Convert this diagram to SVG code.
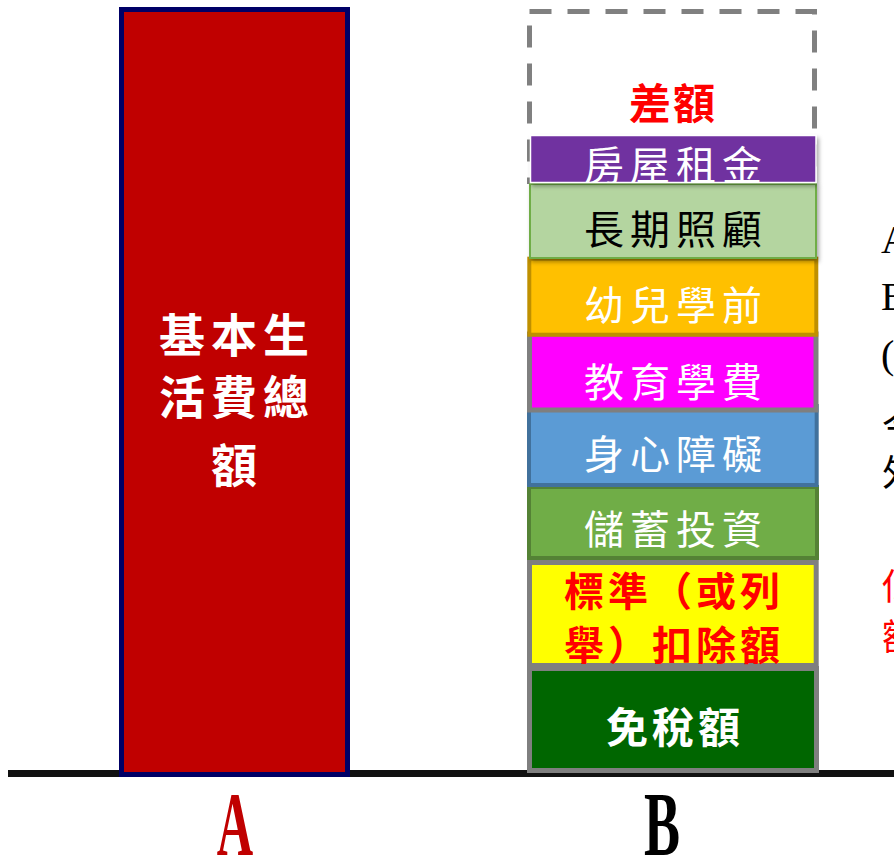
<svg xmlns="http://www.w3.org/2000/svg" width="894" height="858" viewBox="0 0 894 858">
  <defs>
    <filter id="shadow" x="-10%" y="-20%" width="120%" height="150%">
      <feDropShadow dx="2" dy="3" stdDeviation="2" flood-color="#000" flood-opacity="0.35"/>
    </filter>
    <clipPath id="clipRent"><rect x="530" y="135" width="287" height="48"/></clipPath>
  </defs>
  <style>
    .cjk { font-family: "Noto Sans CJK TC", "Noto Sans CJK SC", sans-serif; text-anchor: middle; }
    .lbl { font-size: 40px; letter-spacing: 6px; }
    .white { fill: #ffffff; }
    .bold { font-weight: bold; }
    .red { fill: #ff0000; }
    .edge { font-family: "Liberation Serif", serif; font-size: 40px; fill: #000; }
    .edgecjk { font-family: "Noto Sans CJK TC", sans-serif; font-size: 36px; }
  </style>
  <rect width="894" height="858" fill="#ffffff"/>

  <g id="connectors">
    <rect x="8" y="770" width="886" height="7" fill="#111111"/>
  </g>

  <g id="node-A">
    <rect x="121.5" y="9.5" width="226" height="765" fill="#C00000" stroke="#000066" stroke-width="5"/>
    <text class="cjk white bold" font-size="46" letter-spacing="6" x="237" y="352">基本生</text>
    <text class="cjk white bold" font-size="46" letter-spacing="6" x="237" y="414">活費總</text>
    <text class="cjk white bold" font-size="46" x="234" y="482">額</text>
  </g>

  <g id="label-A">
    <text x="0" y="0" transform="translate(235 855) scale(0.56 1)" font-family="Liberation Serif, serif" font-weight="bold" font-size="90" fill="#C00000" text-anchor="middle">A</text>
  </g>
  <g id="label-B">
    <text x="0" y="0" transform="translate(662 855) scale(0.6 1)" font-family="Liberation Serif, serif" font-weight="bold" font-size="90" fill="#000000" text-anchor="middle">B</text>
  </g>

  <g id="node-gap">
    <rect x="529.5" y="11.5" width="285" height="170" fill="none" stroke="#808080" stroke-width="5" stroke-dasharray="22 16"/>
    <text class="cjk red bold" font-size="42" letter-spacing="2" x="673" y="119">差額</text>
  </g>

  <g id="node-exemption">
    <rect x="529.5" y="668.5" width="287" height="102" fill="#006600" stroke="#7F7F7F" stroke-width="5"/>
    <text class="cjk white bold" font-size="42" letter-spacing="4" x="675" y="743">免稅額</text>
  </g>

  <g id="node-deduction">
    <rect x="529.5" y="562.5" width="286.7" height="103" fill="#FFFF00" stroke="#7F7F7F" stroke-width="5"/>
    <text class="cjk red bold" font-size="40" letter-spacing="4" x="674" y="606">標準（或列</text>
    <text class="cjk red bold" font-size="40" letter-spacing="4" x="674" y="660">舉）扣除額</text>
  </g>

  <g id="node-savings">
    <rect x="529" y="487" width="288" height="71" fill="#70AD47" stroke="#548235" stroke-width="4"/>
    <text class="cjk white lbl" x="676" y="544">儲蓄投資</text>
  </g>

  <g id="node-disability">
    <rect x="529" y="406" width="287.7" height="79" fill="#5B9BD5" stroke="#41719C" stroke-width="4"/>
    <text class="cjk white lbl" x="676" y="469">身心障礙</text>
  </g>

  <g id="node-tuition">
    <rect x="529.5" y="334" width="286.5" height="76" fill="#FF00FF" stroke="#7F7F7F" stroke-width="5"/>
    <text class="cjk white lbl" x="676" y="397">教育學費</text>
  </g>

  <g id="node-preschool">
    <rect x="529.3" y="258.7" width="287" height="76" fill="#FFC000" stroke="#BF9000" stroke-width="4"/>
    <text class="cjk white lbl" x="676" y="320">幼兒學前</text>
  </g>

  <g id="node-longterm">
    <rect x="530" y="184" width="286" height="74" fill="#B4D5A0" stroke="#70AD47" stroke-width="2" filter="url(#shadow)"/>
    <text class="cjk lbl" fill="#000000" x="676" y="244">長期照顧</text>
  </g>

  <g id="node-rent">
    <rect x="530.5" y="135.5" width="285.5" height="47" fill="#7030A0" stroke="#ffffff" stroke-width="1.5" filter="url(#shadow)"/>
    <text class="cjk white lbl" x="676" y="180" clip-path="url(#clipRent)">房屋租金</text>
  </g>

  <g id="edge-text">
    <text class="edge" x="881" y="253">A</text>
    <text class="edge" x="881" y="310">B</text>
    <text class="edge" x="881" y="368">(</text>
    <text class="edgecjk" fill="#000" x="882" y="440">今</text>
    <text class="edgecjk" fill="#000" x="882" y="486">外</text>
    <text class="edgecjk" fill="#ff0000" x="882" y="600">低</text>
    <text class="edgecjk" fill="#ff0000" x="882" y="650">額</text>
  </g>
</svg>
